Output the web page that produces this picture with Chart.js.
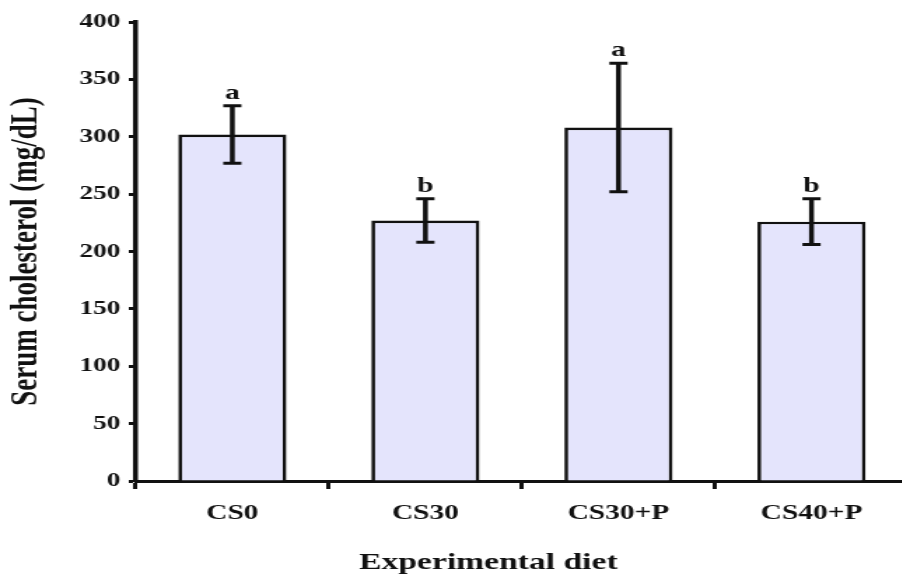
<!DOCTYPE html>
<html>
<head>
<meta charset="utf-8">
<script src="https://cdn.jsdelivr.net/npm/chart.js@4/dist/chart.umd.min.js"></script>
<style>
  body { margin: 0; background: #fff; }
  .wrap { width: 902px; height: 574px; overflow: hidden; position: relative; }
  /* the reference is stretched sideways, so the canvas is too */
  #myChart { transform: scaleX(1.4); transform-origin: 0 0; }
</style>
</head>
<body>
<div class="wrap"><canvas id="myChart" width="650" height="577"></canvas></div>
<script>

const diets = ['CS0', 'CS30', 'CS30+P', 'CS40+P'];
const cholesterol = [302, 227, 308, 226];
const errors = [25, 19, 56, 20];
const letters = ['a', 'b', 'a', 'b'];
const yTicks = [0, 50, 100, 150, 200, 250, 300, 350, 400];

const serif = "'Liberation Serif', 'Times New Roman', serif";
const ink = '#111';

//draws the error bars and the letters above them
const errorBars = {
  id: 'errorBars',
  afterDatasetsDraw: function (chart) {
    const ctx = chart.ctx;
    const y = chart.scales.y;
    const bars = chart.getDatasetMeta(0).data;
    ctx.save();
    ctx.strokeStyle = ink;
    ctx.fillStyle = ink;
    for (let i = 0; i < bars.length; i++) {
      const x = bars[i].x;
      const top = y.getPixelForValue(cholesterol[i] + errors[i]);
      const bot = y.getPixelForValue(cholesterol[i] - errors[i]);
      ctx.lineWidth = 3.5;
      ctx.beginPath();
      ctx.moveTo(x, top);
      ctx.lineTo(x, bot);
      ctx.stroke();
      ctx.lineWidth = 3;
      ctx.beginPath();
      ctx.moveTo(x - 6.5, top);
      ctx.lineTo(x + 6.5, top);
      ctx.moveTo(x - 6.5, bot);
      ctx.lineTo(x + 6.5, bot);
      ctx.stroke();
      ctx.font = 'bold 21px ' + serif;
      ctx.textAlign = 'center';
      ctx.textBaseline = 'alphabetic';
      ctx.fillText(letters[i], x, top - 7);
    }
    ctx.restore();
  }
};

const myChart = new Chart(document.getElementById('myChart').getContext('2d'), {
  type: 'bar',
  data: {
    labels: diets,
    datasets: [{
      data: cholesterol,
      backgroundColor: 'rgb(228,228,252)',
      borderColor: ink,
      borderWidth: 2.7,
      barPercentage: 0.56,
      categoryPercentage: 1
    }]
  },
  options: {
    responsive: false,
    animation: false,
    devicePixelRatio: 1,
    layout: { padding: { left: 0, top: 22, right: 1.4, bottom: 0 } },
    plugins: {
      legend: { display: false },
      tooltip: { enabled: false }
    },
    scales: {
      x: {
        offset: true,
        afterFit: function (scale) { scale.height = 96; },
        grid: {
          display: true,
          offset: true,
          drawOnChartArea: false,
          drawTicks: true,
          tickLength: 8,
          tickWidth: 3,
          tickColor: ink
        },
        border: { display: true, color: ink, width: 3 },
        ticks: {
          color: ink,
          padding: 12,
          maxRotation: 0,
          font: { family: serif, size: 21, weight: 'bold' }
        },
        title: {
          display: true,
          // trailing spaces push the centred title a bit to the left, as in the original
          text: 'Experimental diet        ',
          color: ink,
          padding: { top: 0, bottom: 0 },
          font: { family: serif, size: 24, weight: 'bold' }
        }
      },
      y: {
        min: 0,
        max: 400,
        afterFit: function (scale) { scale.width = 97; },
        afterBuildTicks: function (scale) {
          scale.ticks = yTicks.map(function (v) { return { value: v }; });
        },
        grid: {
          display: true,
          drawOnChartArea: false,
          drawTicks: true,
          tickLength: 5,
          tickWidth: 3,
          tickColor: ink
        },
        border: { display: true, color: ink, width: 3.5 },
        ticks: {
          color: ink,
          padding: 6,
          font: { family: serif, size: 19.5, weight: 'bold' }
        },
        title: {
          display: true,
          text: 'Serum cholesterol (mg/dL)',
          color: ink,
          padding: { top: 3, bottom: 0 },
          font: { family: serif, size: 27, weight: 'bold' }
        }
      }
    }
  },
  plugins: [errorBars]
});
</script>
</body>
</html>
